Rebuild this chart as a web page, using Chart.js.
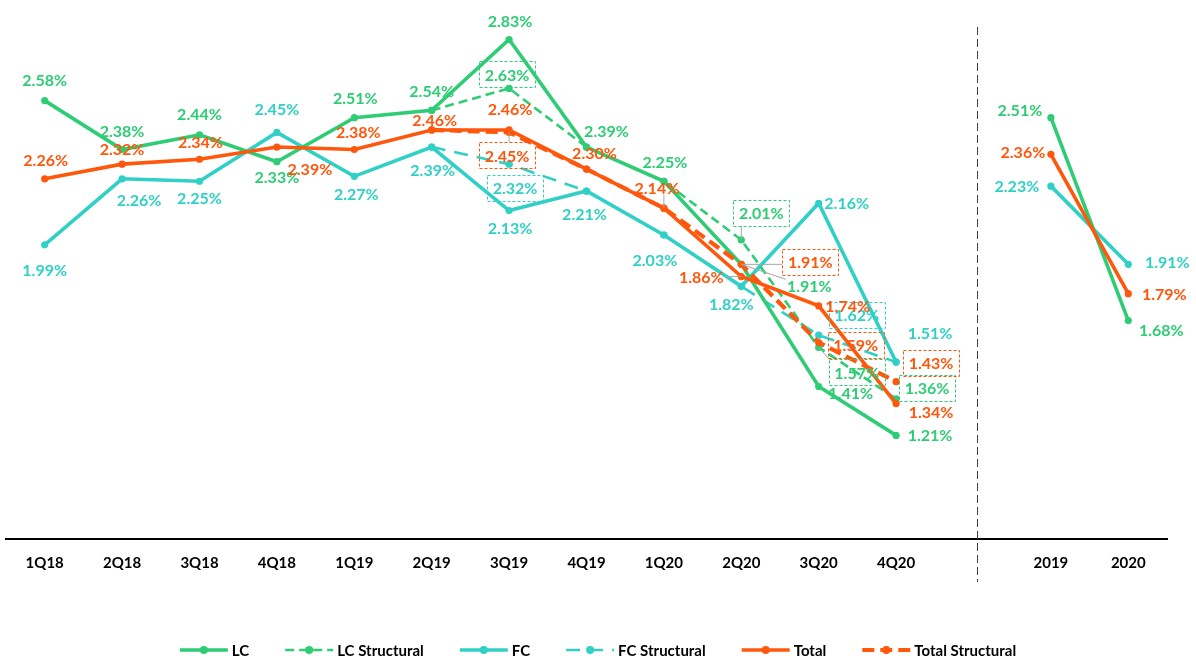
<!DOCTYPE html>
<html><head><meta charset="utf-8">
<script src="https://cdn.jsdelivr.net/npm/chart.js@4.4.1/dist/chart.umd.min.js"></script>
<style>html,body{margin:0;padding:0;background:#fff;}#wrap{width:1196px;height:658px;position:relative;}</style>
</head><body><div id="wrap"><canvas id="c"></canvas></div>
<script>
// ---- data ----
const categories = ['1Q18','2Q18','3Q18','4Q18','1Q19','2Q19','3Q19','4Q19','1Q20','2Q20','3Q20','4Q20','','2019','2020'];
const lc              = [2.58,2.38,2.44,2.33,2.51,2.54,2.83,2.39,2.25,1.91,1.41,1.21,null,2.51,1.68];
const lcStructural    = [null,null,null,null,null,2.54,2.63,2.39,2.25,2.01,1.57,1.36,null,null,null];
const fc              = [1.99,2.26,2.25,2.45,2.27,2.39,2.13,2.21,2.03,1.82,2.16,1.51,null,2.23,1.91];
const fcStructural    = [null,null,null,null,null,2.39,2.32,2.21,2.03,1.82,1.62,1.51,null,null,null];
const total           = [2.26,2.32,2.34,2.39,2.38,2.46,2.46,2.30,2.14,1.86,1.74,1.34,null,2.36,1.79];
const totalStructural = [null,null,null,null,null,2.46,2.45,2.30,2.14,1.91,1.59,1.43,null,null,null];
const seriesNames = ['LC','LC Structural','FC','FC Structural','Total','Total Structural'];

// ---- label placement (style only: pixel offsets from each point) ----
const lcLabelPos = [[0,-21],[0,-19],[0,-21],[0,15],[1,-20],[0,-20],[1,-19],[20,-16],[1,-19],[68,22,1],[32,6],[34,-1],null,[-31,-8],[33,9]];
const lcsLabelPos = [null,null,null,null,null,null,[-2,-14],null,null,[20,-27,1],[38,25,1],[31,-11],null,null,null];
const fcLabelPos = [[0,25],[17,21],[0,17],[0,-24],[2,17],[1,23],[1,17],[-2,23],[-9,25],[-10,18],[28,0],[34,-29],null,[-34,0],[39,-2]];
const fcsLabelPos = [null,null,null,null,null,null,[6,24],null,null,null,[38,-20],null,null,null,null];
const totLabelPos = [[1,-19],[0,-15],[1,-17],[33,22],[4,-18],[3,-10],[1,-21],[8,-16],[-7,-20,1],[-40,0,1],[29,0],[35,8],null,[-28,-3],[36,0]];
const totsLabelPos = [null,null,null,null,null,null,[-2,23,1],null,null,[69,-2,1],[37,2],[35,-19],null,null,null];

const GREEN = '#2ECC74', CYAN = '#30D0C6', ORANGE = '#FF570C';
const FONT = 'Lato, "Open Sans", sans-serif';

function ds(label, data, color, opts) {
  return Object.assign({
    label, data, borderColor: color, backgroundColor: color,
    pointBackgroundColor: color, pointBorderWidth: 0, pointRadius: 3.6, pointHoverRadius: 3.6,
    borderWidth: 3.6, tension: 0, spanGaps: false, fill: false
  }, opts);
}

const datasets = [
  ds(seriesNames[0], lc, GREEN, {order: 2, _labels: lcLabelPos}),
  ds(seriesNames[1], lcStructural, GREEN, {order: 3, borderWidth: 2.6, borderDash: [9,5], _labels: lcsLabelPos, _box: true}),
  ds(seriesNames[2], fc, CYAN, {order: 4, _labels: fcLabelPos}),
  ds(seriesNames[3], fcStructural, CYAN, {order: 5, borderWidth: 2.6, borderDash: [14,9], _labels: fcsLabelPos, _box: true}),
  ds(seriesNames[4], total, ORANGE, {order: 0, _labels: totLabelPos}),
  ds(seriesNames[5], totalStructural, ORANGE, {order: 1, borderWidth: 4.2, borderDash: [12,6], _labels: totsLabelPos, _box: true})
];

const labelPlugin = {
  id: 'pointLabels',
  afterDatasetsDraw(chart) {
    const ctx = chart.ctx;
    ctx.save();
    ctx.font = 'bold 16px ' + FONT;
    ctx.textAlign = 'center';
    ctx.textBaseline = 'middle';
    chart.data.datasets.forEach((d, di) => {
      const meta = chart.getDatasetMeta(di);
      const pos = d._labels || [];
      d.data.forEach((v, i) => {
        if (v == null || !pos[i]) return;
        const el = meta.data[i];
        const px = el.x, py = el.y;
        const lx = px + pos[i][0], ly = py + pos[i][1];
        const txt = v.toFixed(2) + '%';
        const tw = ctx.measureText(txt).width;
        let x0, x1, y0, y1;
        if (d._box) { x0 = Math.round(lx - 28); x1 = x0 + 56; y0 = Math.round(ly - 13); y1 = y0 + 26; }
        else { x0 = lx - tw/2 - 1; x1 = lx + tw/2 + 1; y0 = ly - 7; y1 = ly + 7; }
        if (pos[i][2]) {
          const cx = Math.min(Math.max(px, x0), x1), cy = Math.min(Math.max(py, y0), y1);
          ctx.save();
          ctx.strokeStyle = '#A6A6A6'; ctx.lineWidth = 1; ctx.setLineDash([]);
          ctx.beginPath(); ctx.moveTo(px, py); ctx.lineTo(cx, cy); ctx.stroke();
          ctx.restore();
        }
        if (d._box) {
          ctx.save();
          ctx.strokeStyle = d.borderColor; ctx.lineWidth = 1; ctx.setLineDash([3,2]);
          ctx.strokeRect(x0 + 0.5, y0 + 0.5, x1 - x0, y1 - y0);
          ctx.restore();
        }
        ctx.fillStyle = d.borderColor;
        ctx.fillText(txt, lx, ly + 1);
      });
    });
    ctx.restore();
  }
};

const dividerPlugin = {
  id: 'divider',
  afterDatasetsDraw(chart) {
    const x = chart.scales.x;
    const gapIndex = categories.indexOf('');
    const px = Math.round(x.getPixelForValue(gapIndex) + 3) + 0.5;
    const ctx = chart.ctx;
    ctx.save();
    ctx.strokeStyle = '#404040'; ctx.lineWidth = 1; ctx.setLineDash([8,4]);
    ctx.beginPath(); ctx.moveTo(px, 27); ctx.lineTo(px, chart.chartArea.bottom + 43); ctx.stroke();
    ctx.restore();
  }
};

const legendPlugin = {
  id: 'customLegend',
  afterDraw(chart) {
    const ctx = chart.ctx;
    ctx.save();
    ctx.font = 'bold 15px ' + FONT;
    ctx.textBaseline = 'middle';
    ctx.textAlign = 'left';
    const lineLen = 48, gapText = 4, gapItem = 36;
    const items = chart.data.datasets.map(d => ({d, w: lineLen + gapText + ctx.measureText(d.label).width}));
    const totalW = items.reduce((s, it) => s + it.w, 0) + gapItem * (items.length - 1);
    let x = (chart.width - totalW) / 2;
    const y = 650;
    items.forEach(it => {
      const d = it.d;
      ctx.strokeStyle = d.borderColor;
      ctx.lineWidth = d.borderWidth;
      ctx.setLineDash(d.borderDash || []);
      ctx.beginPath(); ctx.moveTo(x, y); ctx.lineTo(x + lineLen, y); ctx.stroke();
      ctx.setLineDash([]);
      ctx.fillStyle = d.borderColor;
      ctx.beginPath(); ctx.arc(x + lineLen/2, y, 4, 0, Math.PI*2); ctx.fill();
      ctx.fillStyle = '#000';
      ctx.fillText(d.label, x + lineLen + gapText, y + 1);
      x += it.w + gapItem;
    });
    ctx.restore();
  }
};

new Chart(document.getElementById('c'), {
  type: 'line',
  data: {labels: categories, datasets},
  plugins: [dividerPlugin, labelPlugin, legendPlugin],
  options: {
    responsive: true, maintainAspectRatio: false, animation: false, devicePixelRatio: 1,
    layout: {padding: {left: 6, right: 29, top: 0, bottom: 71}},
    plugins: {legend: {display: false}, tooltip: {enabled: false}},
    scales: {
      x: {
        offset: true,
        grid: {display: false, drawTicks: false},
        border: {display: true, color: '#000', width: 2},
        ticks: {padding: 15, color: '#000', font: {family: FONT, size: 15, weight: 'bold'}, autoSkip: false, maxRotation: 0}
      },
      y: {display: false, min: 0.786, max: 2.977}
    }
  }
});
</script></body></html>
